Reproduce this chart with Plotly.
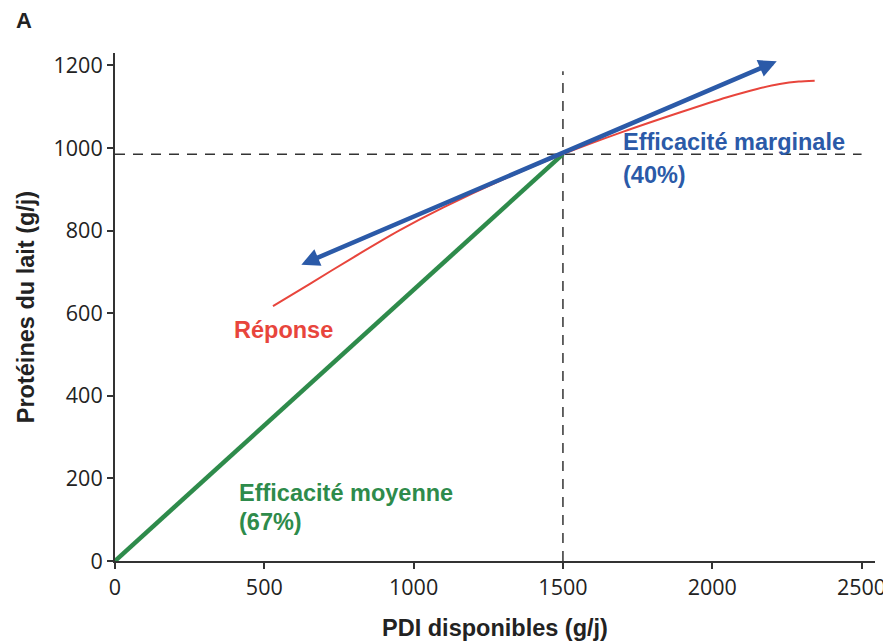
import plotly.graph_objects as go

# ---- data ----
response_x = [529, 650, 800, 954, 1100, 1300, 1500, 1700, 1891, 2050, 2150, 2226, 2290, 2343]
response_y = [617, 670, 736, 801, 856, 924, 985, 1039, 1086, 1123, 1143, 1155, 1161, 1163]

average_x = [0, 1500]
average_y = [0, 985]

marginal_start = (619, 716)
marginal_end = (2216, 1210)

ref_x = 1500
ref_y = 985
ref_vline_top = 1186
ref_hline_end = 2500

x_ticks = [0, 500, 1000, 1500, 2000, 2500]
y_ticks = [0, 200, 400, 600, 800, 1000, 1200]

BLUE = "#2b5aa8"
RED = "#e8453c"
GREEN = "#2e8b4b"
DARK = "#333333"

fig = go.Figure()

# reference dashed lines
fig.add_trace(go.Scatter(x=[ref_x, ref_x], y=[0, ref_vline_top], mode="lines",
                         line=dict(color=DARK, width=1.5, dash="10px,8px"),
                         showlegend=False, hoverinfo="skip"))
fig.add_trace(go.Scatter(x=[0, ref_hline_end], y=[ref_y, ref_y], mode="lines",
                         line=dict(color=DARK, width=1.5, dash="10px,8px"),
                         showlegend=False, hoverinfo="skip"))

# average efficiency
fig.add_trace(go.Scatter(x=average_x, y=average_y, mode="lines",
                         line=dict(color=GREEN, width=4.5),
                         showlegend=False))

# response curve
fig.add_trace(go.Scatter(x=response_x, y=response_y, mode="lines",
                         line=dict(color=RED, width=2, shape="spline", smoothing=0.6),
                         showlegend=False))

# marginal efficiency double arrow
fig.add_annotation(x=marginal_end[0], y=marginal_end[1],
                   ax=marginal_start[0], ay=marginal_start[1],
                   xref="x", yref="y", axref="x", ayref="y",
                   text="", showarrow=True, arrowhead=2, startarrowhead=2,
                   arrowside="end+start", arrowwidth=4.5, arrowsize=0.8,
                   startarrowsize=0.8, arrowcolor=BLUE)

FS = 23.5
label_font = dict(family="Liberation Sans, Arial, sans-serif", size=FS)

def label(txt, x, y, color):
    fig.add_annotation(x=x, y=y, xref="x", yref="y", text=f"<b>{txt}</b>",
                       showarrow=False, xanchor="left", yanchor="middle",
                       font=dict(color=color, **label_font))

label("Efficacité marginale", 1693, 1014, BLUE)
label("(40%)", 1693, 934, BLUE)
label("Réponse", 392, 559, RED)
label("Efficacité moyenne", 409, 165, GREEN)
label("(67%)", 409, 94, GREEN)

# panel letter, placed in paper coords (plot area: 760 x 508 px)
fig.add_annotation(x=(24 - 115) / 760, y=1 + (53 - 20) / 508, xref="paper", yref="paper",
                   text="<b>A</b>", showarrow=False, xanchor="center", yanchor="middle",
                   font=dict(color="#222", family="Liberation Sans, Arial, sans-serif", size=22))

axis_common = dict(showline=True, linecolor=DARK, linewidth=2, ticks="outside",
                   ticklen=6, tickwidth=2, tickcolor=DARK, showgrid=False,
                   zeroline=False, automargin=False,
                   tickfont=dict(family="Open Sans, sans-serif", size=21.5, color="#222"),
                   title_font=dict(family="Liberation Sans, Arial, sans-serif", size=FS, color="#222"))

# page body has an 8px margin: size the figure to fill the rest of the window
fig.update_layout(
    width=883, height=635,
    margin=dict(l=107, r=16, t=45, b=82),
    paper_bgcolor="white", plot_bgcolor="white",
    xaxis=dict(range=[0, 2545], tickvals=x_ticks, ticktext=[str(v) for v in x_ticks],
               title=dict(text="<b>PDI disponibles (g/j)</b>", standoff=20), **axis_common),
    yaxis=dict(range=[0, 1230], tickvals=y_ticks, ticktext=[str(v) for v in y_ticks],
               title=dict(text="<b>Protéines du lait (g/j)</b>", standoff=12), **axis_common),
)

fig.write_html("out.html")
